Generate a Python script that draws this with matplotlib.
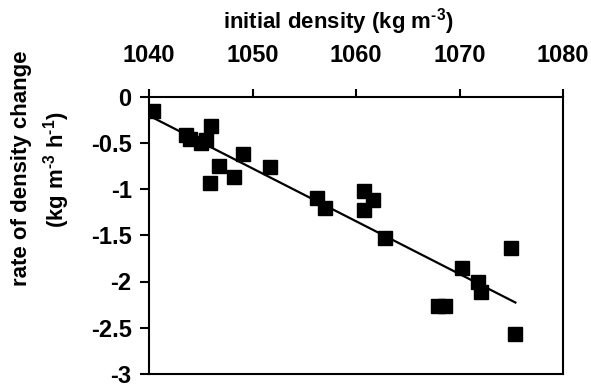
import numpy as np
import matplotlib.pyplot as plt

plt.rcParams['font.family'] = ['Liberation Sans', 'DejaVu Sans']
plt.rcParams['font.weight'] = 'bold'
plt.rcParams['mathtext.fontset'] = 'custom'
plt.rcParams['mathtext.rm'] = 'Liberation Sans:bold'
plt.rcParams['mathtext.default'] = 'rm'

# initial density (kg m-3) and rate of density change (kg m-3 h-1)
density = [1040.4, 1043.6, 1044.0, 1045.0, 1045.5, 1046.0, 1045.9, 1046.8,
           1048.2, 1049.1, 1051.7, 1056.2, 1057.0, 1060.8, 1061.6, 1060.8,
           1062.8, 1067.9, 1068.6, 1070.2, 1071.8, 1072.1, 1075.0, 1075.4]
rate = [-0.16, -0.42, -0.46, -0.50, -0.47, -0.32, -0.93, -0.75,
        -0.87, -0.62, -0.76, -1.10, -1.21, -1.02, -1.12, -1.23,
        -1.53, -2.26, -2.26, -1.85, -2.00, -2.11, -1.64, -2.57]

xticks = [1040, 1050, 1060, 1070, 1080]
yticks = [0, -0.5, -1, -1.5, -2, -2.5, -3]
ytick_labels = ['0', '-0.5', '-1', '-1.5', '-2', '-2.5', '-3']

fig = plt.figure(figsize=(5.91, 3.89), dpi=100)
ax = fig.add_axes([149/591, 1 - 374/389, 414/591, 277.5/389])

ax.plot(density, rate, 's', color='black', markersize=10.5, zorder=3)

# least-squares trend line
coef = np.polyfit(density, rate, 1)
xf = np.array([min(density), max(density)])
ax.plot(xf, np.polyval(coef, xf), color='black', linewidth=1.6)

ax.set_xlim(1040, 1080)
ax.set_ylim(-3, 0)
ax.xaxis.tick_top()
ax.set_xticks(xticks)
ax.set_yticks(yticks)
ax.set_yticklabels(ytick_labels)
ax.tick_params(axis='x', direction='out', length=5.5, width=1.5, pad=16, labelsize=17)
ax.tick_params(axis='y', direction='out', length=6.5, width=1.5, pad=6, labelsize=17)
for s in ax.spines.values():
    s.set_linewidth(1.5)

fig.text(223/591, 1 - 22/389, r'initial density (kg m$^{\text{-3}}$)', ha='left', va='center',
         fontsize=16, fontweight='bold')
fig.text(22/591, 1 - 168/389, 'rate of density change', ha='center', va='center',
         rotation=90, fontsize=16, fontweight='bold')
fig.text(57/591, 1 - 170/389, r'(kg m$^{\text{-3}}$ h$^{\text{-1}}$)', ha='center', va='center',
         rotation=90, fontsize=16, fontweight='bold')

fig.savefig('out.png', dpi=100)
